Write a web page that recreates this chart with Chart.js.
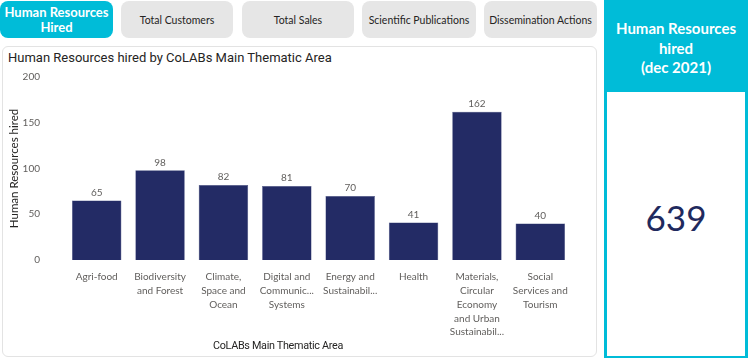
<!DOCTYPE html>
<html><head><meta charset="utf-8">
<script src="https://cdn.jsdelivr.net/npm/chart.js@4"></script>
<style>
body{margin:0;width:748px;height:361px;background:#fff;position:relative;overflow:hidden;font-family:Lato,sans-serif;}
.btn{position:absolute;top:1px;height:37px;border-radius:8px;background:#E6E6E6;color:#252423;font-size:10.5px;display:flex;align-items:center;justify-content:center;text-align:center;}
.btn.active{background:#00BCD8;color:#fff;font-weight:bold;font-size:13px;line-height:15px;}
#card{position:absolute;left:2px;top:46px;width:593px;height:309px;border:1px solid #E3E3E3;border-radius:6px;background:#fff;}
#title{position:absolute;left:8px;top:50px;font-family:Roboto,sans-serif;font-size:13px;color:#252423;white-space:nowrap;}
#xtitle{position:absolute;left:178px;width:200px;top:339px;text-align:center;font-family:Roboto,sans-serif;font-size:10.8px;letter-spacing:-0.3px;color:#252423;white-space:nowrap;}
#cv{position:absolute;left:0;top:46px;}
#kpi{position:absolute;left:604px;top:0;width:144px;height:358px;background:#00BCD8;}
#kpiT{position:absolute;left:0;top:19px;width:144px;text-align:center;color:#fff;font-weight:bold;font-size:15px;line-height:19.5px;}
#kpiBox{position:absolute;left:3px;top:92px;width:138px;height:264px;background:#fff;}
#kpiV{position:absolute;left:0;width:138px;top:104px;text-align:center;font-family:Lato,sans-serif;font-size:35px;line-height:42px;color:#1F2A5E;}
</style></head>
<body>
<div class="btn active" style="left:0;width:113px;">Human Resources<br>Hired</div>
<div class="btn" style="left:121px;width:112px;">Total Customers</div>
<div class="btn" style="left:242px;width:112px;">Total Sales</div>
<div class="btn" style="left:362px;width:114px;">Scientific Publications</div>
<div class="btn" style="left:484px;width:113px;">Dissemination Actions</div>
<div id="card"></div>
<div id="title">Human Resources hired by CoLABs Main Thematic Area</div>
<canvas id="cv" width="597" height="311"></canvas>
<div id="xtitle">CoLABs Main Thematic Area</div>
<div id="kpi"><div id="kpiT">Human Resources<br>hired<br>(dec 2021)</div><div id="kpiBox"><div id="kpiV">639</div></div></div>
<script>
const categories = [["Agri-food"],["Biodiversity","and Forest"],["Climate,","Space and","Ocean"],["Digital and","Communic...","Systems"],["Energy and","Sustainabil..."],["Health"],["Materials,","Circular","Economy","and Urban","Sustainabil..."],["Social","Services and","Tourism"]];
const hired = [65,98,82,81,70,41,162,40];
const yTicks = [0,50,100,150,200];

const labelPlugin = {
  id:'valueLabels',
  afterDatasetsDraw(chart){
    const ctx = chart.ctx;
    const meta = chart.getDatasetMeta(0);
    ctx.save();
    ctx.font = '10px Lato, sans-serif';
    ctx.fillStyle = '#605E5C';
    ctx.textAlign = 'center';
    ctx.textBaseline = 'bottom';
    meta.data.forEach((el,i)=>{ ctx.fillText(String(hired[i]), el.x, el.y - 3); });
    ctx.restore();
  }
};

new Chart(document.getElementById('cv'), {
  type:'bar',
  data:{labels:categories, datasets:[{data:hired, backgroundColor:'#232B65', borderColor:'#3A4378', borderWidth:0.5, barPercentage:0.78, categoryPercentage:1}]},
  options:{
    responsive:false, devicePixelRatio:1, animation:false,
    layout:{padding:{left:0,right:25,top:30,bottom:0}},
    plugins:{legend:{display:false}, tooltip:{enabled:false}},
    scales:{
      x:{grid:{display:false,drawTicks:false}, border:{display:false},
         ticks:{color:'#605E5C', font:{family:'Lato', size:10, lineHeight:1.38}, padding:10, maxRotation:0, autoSkip:false},
         afterFit:s=>{s.height=97;}},
      y:{min:0,max:200, grid:{display:false,drawTicks:false}, border:{display:false},
         afterBuildTicks:s=>{s.ticks=yTicks.map(v=>({value:v}));},
         ticks:{color:'#605E5C', font:{family:'Lato', size:10}, padding:25},
         title:{display:true, text:'Human Resources hired', color:'#252423', font:{family:'Lato', size:11.5}, padding:{top:7,bottom:0}},
         afterFit:s=>{s.width=65;}}
    }
  },
  plugins:[labelPlugin]
});
</script>
</body></html>
